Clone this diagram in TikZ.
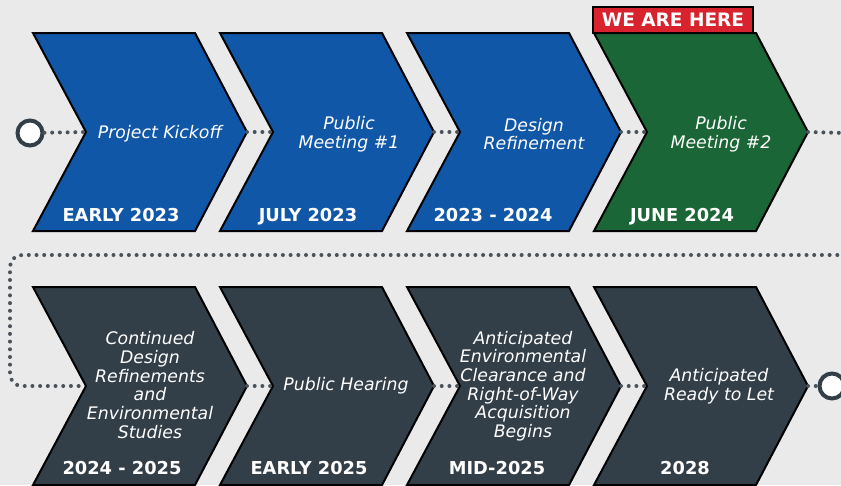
\documentclass[tikz,border=0pt]{standalone}
\usepackage{fontspec}
\setmainfont{DejaVu Sans}
\definecolor{bggray}{HTML}{EAEAEA}
\definecolor{chevblue}{HTML}{1157A7}
\definecolor{chevgreen}{HTML}{1B6636}
\definecolor{chevdark}{HTML}{333F48}
\definecolor{herered}{HTML}{D8232E}
\definecolor{dotgray}{HTML}{4A535C}

\newcommand{\chevron}[4]{%
  \draw[chev,fill=#4] (#2,#3) -- ++(162,0) -- ++(52,99) -- ++(-52,99) -- ++(-162,0) -- ++(53,-99) -- cycle;
  \coordinate (#1-notch) at (#2+53,#3+99);
  \coordinate (#1-tip) at (#2+214,#3+99);
}

\begin{document}
\begin{tikzpicture}[x=1pt,y=-1pt,
  chev/.style={draw=black,line width=2pt,line join=miter},
  dotline/.style={draw=dotgray,line width=4pt,line cap=round,dash pattern=on 0pt off 7.7pt},
  endpt/.style={circle,draw=chevdark,fill=white,line width=4pt,minimum size=25pt,inner sep=0pt},
  title/.style={text=white,font=\fontsize{17.3}{18.7}\selectfont\itshape,align=center,inner sep=0pt},
  date/.style={text=white,font=\fontsize{17.8}{18}\selectfont\bfseries,anchor=base,inner sep=0pt},
  herebox/.style={draw=black,line width=2pt,fill=herered,text=white,font=\fontsize{18.5}{18}\selectfont\bfseries,minimum width=160pt,minimum height=26pt,inner sep=0pt}]
\clip (0,0) rectangle (841,485);
\fill[bggray] (0,0) rectangle (841,485);

\chevron{c1}{33}{33}{chevblue}
\chevron{c2}{220}{33}{chevblue}
\chevron{c3}{407}{33}{chevblue}
\chevron{c4}{594}{33}{chevgreen}
\chevron{c5}{33}{287}{chevdark}
\chevron{c6}{220}{287}{chevdark}
\chevron{c7}{407}{287}{chevdark}
\chevron{c8}{594}{287}{chevdark}

\coordinate (right1) at (845,133);
\coordinate (right2) at (845,255);
\coordinate (bend) at (10,255);
\node[endpt] (start) at (30,133) {};
\node[endpt] (finish) at (832,386) {};

\draw[dotline] (start) -- (c1-notch);
\draw[dotline] (c1-tip) -- (c2-notch);
\draw[dotline] (c2-tip) -- (c3-notch);
\draw[dotline] (c3-tip) -- (c4-notch);
\draw[dotline] (c4-tip) -- (right1);
\draw[dotline,rounded corners=12pt] (right2) -- (bend) |- (c5-notch);
\draw[dotline] (c5-tip) -- (c6-notch);
\draw[dotline] (c6-tip) -- (c7-notch);
\draw[dotline] (c7-tip) -- (c8-notch);
\draw[dotline] (c8-tip) -- (finish);

\node[herebox] (here) at (673,20) {WE ARE HERE};

\node[title] (t1) at (160,134) {Project Kickoff};
\node[title] (t2) at (349,134) {Public\\Meeting \#1};
\node[title] (t3) at (534,134) {Design\\Refinement};
\node[title] (t4) at (721,134) {Public\\Meeting \#2};
\node[title] (t5) at (150,385) {Continued\\Design\\Refinements\\and\\Environmental\\Studies};
\node[title] (t6) at (346,386) {Public Hearing};
\node[title] (t7) at (523,386) {Anticipated\\Environmental\\Clearance and\\Right-of-Way\\Acquisition\\Begins};
\node[title] (t8) at (719,386) {Anticipated\\Ready to Let};

\node[date] (d1) at (121,221) {EARLY 2023};
\node[date] (d2) at (308,221) {JULY 2023};
\node[date] (d3) at (493,221) {2023 - 2024};
\node[date] (d4) at (682,221) {JUNE 2024};
\node[date] (d5) at (122,474) {2024 - 2025};
\node[date] (d6) at (309,474) {EARLY 2025};
\node[date] (d7) at (497,474) {MID-2025};
\node[date] (d8) at (685,474) {2028};
\end{tikzpicture}
\end{document}
